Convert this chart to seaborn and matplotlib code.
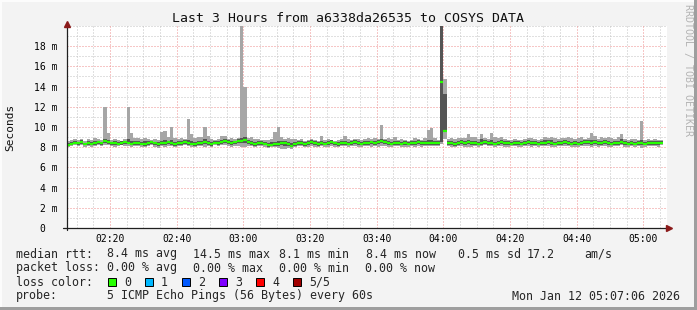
import numpy as np
import pandas as pd
import matplotlib
matplotlib.use("Agg")
import matplotlib.pyplot as plt
from matplotlib.patches import Rectangle
from matplotlib.ticker import FixedLocator, MultipleLocator
import seaborn as sns

# ---------------- data (tenths of a millisecond, one sample per minute from 02:07) ----
median_rtt = [
    82, 83, 84, 84, 85, 83, 84, 83, 84, 85,
    84, 86, 85, 84, 84, 83, 84, 85, 84, 83,
    84, 84, 83, 83, 84, 85, 84, 83, 84, 84,
    85, 84, 83, 84, 84, 85, 84, 83, 83, 84,
    84, 85, 84, 83, 84, 84, 85, 86, 85, 84,
    85, 86, 86, 87, 85, 84, 83, 84, 84, 83,
    82, 82, 83, 83, 84, 84, 83, 81, 83, 84,
    84, 83, 84, 85, 84, 83, 84, 83, 84, 85,
    84, 83, 84, 84, 83, 84, 85, 84, 83, 84,
    84, 85, 84, 85, 86, 85, 84, 83, 84, 84,
    83, 84, 83, 84, 84, 85, 84, 84, 84, 84,
    84, 84, 145, 96, 84, 84, 83, 84, 85, 84,
    85, 84, 84, 83, 84, 85, 84, 84, 83, 84,
    85, 84, 84, 83, 84, 84, 83, 84, 85, 84,
    84, 83, 84, 84, 85, 84, 83, 84, 84, 85,
    84, 83, 84, 83, 84, 85, 85, 84, 85, 84,
    84, 85, 84, 83, 84, 84, 85, 84, 83, 84,
    83, 84, 84, 83, 84, 84, 84, 84, 84,
]
smoke_max = [
    86, 87, 88, 87, 88, 86, 88, 87, 89, 88,
    87, 120, 94, 87, 88, 87, 86, 88, 120, 94,
    89, 89, 88, 89, 88, 87, 88, 87, 95, 96,
    90, 100, 89, 88, 89, 88, 108, 93, 89, 90,
    90, 100, 91, 88, 87, 88, 91, 91, 88, 89,
    88, 89, 250, 140, 89, 90, 88, 88, 87, 87,
    87, 88, 95, 100, 90, 88, 89, 88, 88, 87,
    88, 86, 87, 88, 87, 86, 91, 87, 88, 87,
    86, 87, 88, 91, 88, 87, 88, 88, 87, 88,
    89, 88, 89, 88, 102, 88, 89, 88, 90, 87,
    88, 87, 86, 87, 89, 88, 87, 89, 97, 99,
    89, 87, 250, 148, 88, 89, 88, 89, 89, 89,
    93, 90, 90, 88, 93, 89, 88, 94, 90, 89,
    90, 88, 87, 87, 88, 87, 87, 88, 89, 89,
    88, 87, 88, 90, 89, 90, 89, 88, 89, 89,
    90, 89, 88, 89, 90, 88, 89, 94, 91, 88,
    90, 89, 90, 89, 88, 90, 93, 88, 87, 88,
    88, 87, 106, 87, 88, 87, 88, 87, 87,
]
smoke_min = [
    80, 81, 82, 81, 82, 80, 81, 80, 81, 82,
    81, 82, 82, 81, 80, 81, 82, 81, 81, 80,
    81, 81, 80, 80, 81, 82, 80, 79, 81, 80,
    81, 81, 80, 81, 81, 82, 81, 80, 80, 81,
    81, 80, 81, 80, 82, 81, 82, 82, 81, 80,
    81, 81, 80, 80, 81, 81, 80, 81, 81, 80,
    79, 80, 80, 79, 78, 78, 79, 78, 80, 81,
    81, 80, 80, 81, 80, 80, 81, 80, 80, 81,
    80, 80, 81, 81, 80, 81, 81, 80, 80, 81,
    81, 80, 81, 80, 81, 81, 80, 80, 81, 81,
    80, 80, 80, 81, 80, 81, 80, 81, 81, 81,
    81, 81, 83, 88, 81, 80, 80, 81, 81, 80,
    80, 80, 81, 80, 81, 82, 81, 81, 80, 81,
    81, 80, 80, 81, 81, 80, 80, 81, 81, 80,
    81, 80, 81, 81, 81, 80, 80, 81, 81, 81,
    81, 80, 80, 80, 81, 81, 81, 80, 81, 80,
    81, 81, 80, 80, 81, 81, 82, 80, 80, 81,
    80, 81, 79, 80, 81, 81, 81, 80, 82,
]
core_hi = [
    84, 85, 86, 85, 87, 84, 86, 85, 86, 86,
    85, 88, 87, 85, 86, 85, 86, 86, 88, 86,
    86, 86, 85, 86, 86, 86, 85, 85, 86, 87,
    86, 87, 85, 86, 86, 87, 87, 86, 85, 86,
    86, 88, 86, 85, 86, 86, 87, 88, 87, 86,
    86, 88, 89, 90, 87, 86, 85, 86, 86, 85,
    84, 85, 85, 86, 86, 86, 85, 84, 85, 86,
    86, 85, 86, 87, 86, 85, 86, 85, 86, 87,
    85, 85, 86, 86, 85, 86, 87, 86, 85, 86,
    86, 86, 86, 87, 88, 87, 86, 85, 86, 86,
    85, 86, 85, 86, 86, 87, 86, 86, 87, 87,
    86, 86, 250, 133, 86, 86, 85, 86, 87, 86,
    87, 86, 86, 85, 88, 87, 86, 87, 85, 86,
    87, 86, 86, 85, 86, 86, 85, 86, 87, 86,
    86, 85, 86, 87, 87, 87, 85, 86, 86, 87,
    86, 85, 86, 85, 86, 87, 87, 87, 87, 86,
    86, 87, 86, 85, 86, 86, 88, 86, 85, 86,
    85, 86, 87, 85, 86, 86, 86, 86, 86,
]
core_lo = [
    81, 82, 83, 82, 83, 82, 82, 82, 82, 83,
    82, 84, 83, 82, 82, 82, 82, 83, 83, 82,
    82, 82, 82, 81, 82, 83, 82, 81, 82, 82,
    83, 82, 81, 82, 82, 83, 82, 82, 81, 82,
    82, 83, 82, 81, 83, 82, 83, 84, 83, 82,
    83, 84, 84, 84, 83, 82, 81, 82, 82, 82,
    80, 81, 81, 81, 82, 81, 81, 80, 81, 82,
    82, 81, 82, 83, 82, 81, 82, 82, 82, 83,
    82, 81, 82, 82, 82, 82, 83, 82, 82, 82,
    82, 83, 82, 83, 84, 83, 82, 82, 82, 82,
    82, 82, 82, 82, 82, 83, 82, 82, 82, 82,
    82, 82, 85, 96, 82, 82, 81, 82, 83, 82,
    83, 82, 82, 82, 82, 83, 82, 82, 82, 82,
    83, 82, 82, 82, 82, 82, 82, 82, 83, 82,
    82, 82, 82, 82, 83, 82, 82, 82, 82, 83,
    82, 82, 82, 82, 82, 83, 83, 82, 83, 82,
    82, 83, 82, 82, 82, 82, 83, 82, 82, 82,
    82, 82, 82, 82, 82, 82, 82, 82, 83,
]

first_sample = "02:07"
x_tick_labels = ["02:20", "02:40", "03:00", "03:20", "03:40",
                 "04:00", "04:20", "04:40", "05:00"]
y_tick_values = [0, 2, 4, 6, 8, 10, 12, 14, 16, 18]

title = "Last 3 Hours from a6338da26535 to COSYS DATA"
rtt_stats = ["8.4 ms avg", "14.5 ms max", "8.1 ms min", "8.4 ms now", "0.5 ms sd", "17.2", "am/s"]
loss_stats = ["0.00 % avg", "0.00 % max", "0.00 % min", "0.00 % now"]
loss_labels = ["0", "1", "2", "3", "4", "5/5"]
loss_colors = ["#26ff00", "#00b8ff", "#0059ff", "#7e00ff", "#ff0000", "#a10000"]
probe_text = "5 ICMP Echo Pings (56 Bytes) every 60s"
stamp_text = "Mon Jan 12 05:07:06 2026"

# ---------------- figure ----------------
W, H = 697, 310
sns.set_style("white")
plt.rcParams["font.family"] = ["DejaVu Sans Mono", "DejaVu Sans"]

BACK = "#f3f3f3"
fig = plt.figure(figsize=(W / 100, H / 100), dpi=100, facecolor=BACK)

def fx(px):
    return px / W

def fy(py):
    return 1 - py / H

L, R, T, B = 67, 667, 26, 228
ax = fig.add_axes([fx(L), fy(B), fx(R) - fx(L), fy(T) - fy(B)])
ax.set_facecolor("#ffffff")

def to_min(hhmm):
    h, m = hhmm.split(":")
    return int(h) * 60 + int(m)

t0 = to_min(first_sample)
n = len(median_rtt)
edges = np.arange(n + 1)

def ext(a):
    a = np.asarray(a, dtype=float) / 10.0
    return np.append(a, a[-1])

ax.fill_between(edges, ext(smoke_min), ext(smoke_max), step="post",
                color="#a6a6a6", linewidth=0, zorder=2)
ax.fill_between(edges, ext(core_lo), ext(core_hi), step="post",
                color="#555555", linewidth=0, zorder=3)

# median: one horizontal strip per sample (no vertical connectors), like SmokePing
med = np.asarray(median_rtt, dtype=float) / 10.0
seg = pd.DataFrame({
    "x": np.concatenate([np.arange(n), np.arange(n) + 1]),
    "y": np.concatenate([med, med]),
    "seg": np.concatenate([np.arange(n), np.arange(n)]),
})
sns.lineplot(data=seg, x="x", y="y", units="seg", estimator=None, color=loss_colors[0],
             linewidth=1.6, solid_capstyle="butt", legend=False, ax=ax, zorder=4)

ax.set_xlim(0.1, 180.1)
ax.set_ylim(0, 20)

# ticks
major_x = [to_min(s) - t0 for s in x_tick_labels]
ax.xaxis.set_major_locator(FixedLocator(major_x))
ax.set_xticks(np.arange(3, 181, 5), minor=True)
ax.yaxis.set_major_locator(FixedLocator(y_tick_values))
ax.yaxis.set_minor_locator(MultipleLocator(1))
ax.set_xticklabels(x_tick_labels)
ax.set_yticklabels([("%d m" % v) if v else "0  " for v in y_tick_values])

# dotted grid
ax.grid(False)
dots = (0, (1, 2))
for xm in np.arange(3, 181, 5):
    if xm not in major_x:
        ax.axvline(xm, color="#c2c2c2", lw=0.72, ls=dots, zorder=1)
for ym in range(1, 21):
    if ym not in y_tick_values:
        ax.axhline(ym, color="#c2c2c2", lw=0.72, ls=dots, zorder=1)
for xm in major_x:
    ax.axvline(xm, color="#ef8e8e", lw=0.72, ls=dots, zorder=1.5)
for ym in y_tick_values[1:]:
    ax.axhline(ym, color="#ef8e8e", lw=0.72, ls=dots, zorder=1.5)

for s in ax.spines.values():
    s.set_visible(False)

ax.tick_params(axis="both", which="major", labelsize=7, length=3, width=0.7,
               color="#606060", direction="inout", labelcolor="#000000")
ax.tick_params(axis="both", which="minor", length=2, width=0.7,
               color="#909090", direction="inout")
ax.tick_params(axis="x", which="major", pad=3)
ax.tick_params(axis="y", which="major", pad=5)
ax.set_xlabel("")
ax.set_ylabel("")

# axis lines with arrows
ax.plot([0, 0], [-0.012, 1.01], transform=ax.transAxes, color="#202020",
        lw=0.9, clip_on=False, zorder=6)
ax.plot([-0.006, 1.004], [0, 0], transform=ax.transAxes, color="#202020",
        lw=0.9, clip_on=False, zorder=6)
ax.plot([0], [1.01], transform=ax.transAxes, marker="^", ms=5, color="#8b1a1a",
        clip_on=False, zorder=7)
ax.plot([1.004], [0], transform=ax.transAxes, marker=">", ms=5, color="#8b1a1a",
        clip_on=False, zorder=7)

# texts
fig.text(fx(348), fy(19), title, ha="center", va="center", fontsize=9.5, color="#101010")
fig.text(fx(10), fy(127), "Seconds", rotation=90, ha="center", va="center",
         fontsize=8, color="#101010")
fig.text(fx(688), fy(4), "RRDTOOL / TOBI OETIKER", rotation=270, ha="center",
         va="top", fontsize=7.2, color="#b4b4b4")

fs = 8.4
fig.text(fx(16), fy(254), "median rtt:", ha="left", va="center", fontsize=fs)
for xp, s in zip([107, 193, 279, 366, 458, 527, 584], rtt_stats):
    fig.text(fx(xp), fy(254), s, ha="left", va="center", fontsize=fs)
fig.text(fx(16), fy(268), "packet loss:", ha="left", va="center", fontsize=fs)
for xp, s in zip([107, 193, 279, 365], loss_stats):
    fig.text(fx(xp), fy(268), s, ha="left", va="center", fontsize=fs)
fig.text(fx(16), fy(282), "loss color:", ha="left", va="center", fontsize=fs)
for i, (lab, col) in enumerate(zip(loss_labels, loss_colors)):
    bx = 108 + 37 * i
    fig.add_artist(Rectangle((fx(bx), fy(286)), 8 / W, 8 / H, transform=fig.transFigure,
                             facecolor=col, edgecolor="#000000", linewidth=0.7))
    fig.text(fx(bx + 16), fy(282), lab, ha="left", va="center", fontsize=fs)
fig.text(fx(16), fy(296), "probe:", ha="left", va="center", fontsize=fs)
fig.text(fx(107), fy(296), probe_text, ha="left", va="center", fontsize=fs)
fig.text(fx(680), fy(296), stamp_text, ha="right", va="center", fontsize=fs)

# 3-D frame
fig.add_artist(Rectangle((0, fy(2)), 1, 2 / H, transform=fig.transFigure,
                         facecolor="#fcfcfc", edgecolor="none"))
fig.add_artist(Rectangle((0, 0), 2 / W, 1, transform=fig.transFigure,
                         facecolor="#fcfcfc", edgecolor="none"))
fig.add_artist(Rectangle((0, 0), 1, 3 / H, transform=fig.transFigure,
                         facecolor="#9e9e9e", edgecolor="none"))
fig.add_artist(Rectangle((fx(694), 0), 3 / W, 1, transform=fig.transFigure,
                         facecolor="#9e9e9e", edgecolor="none"))

fig.savefig("out.png", dpi=100, facecolor=BACK)
